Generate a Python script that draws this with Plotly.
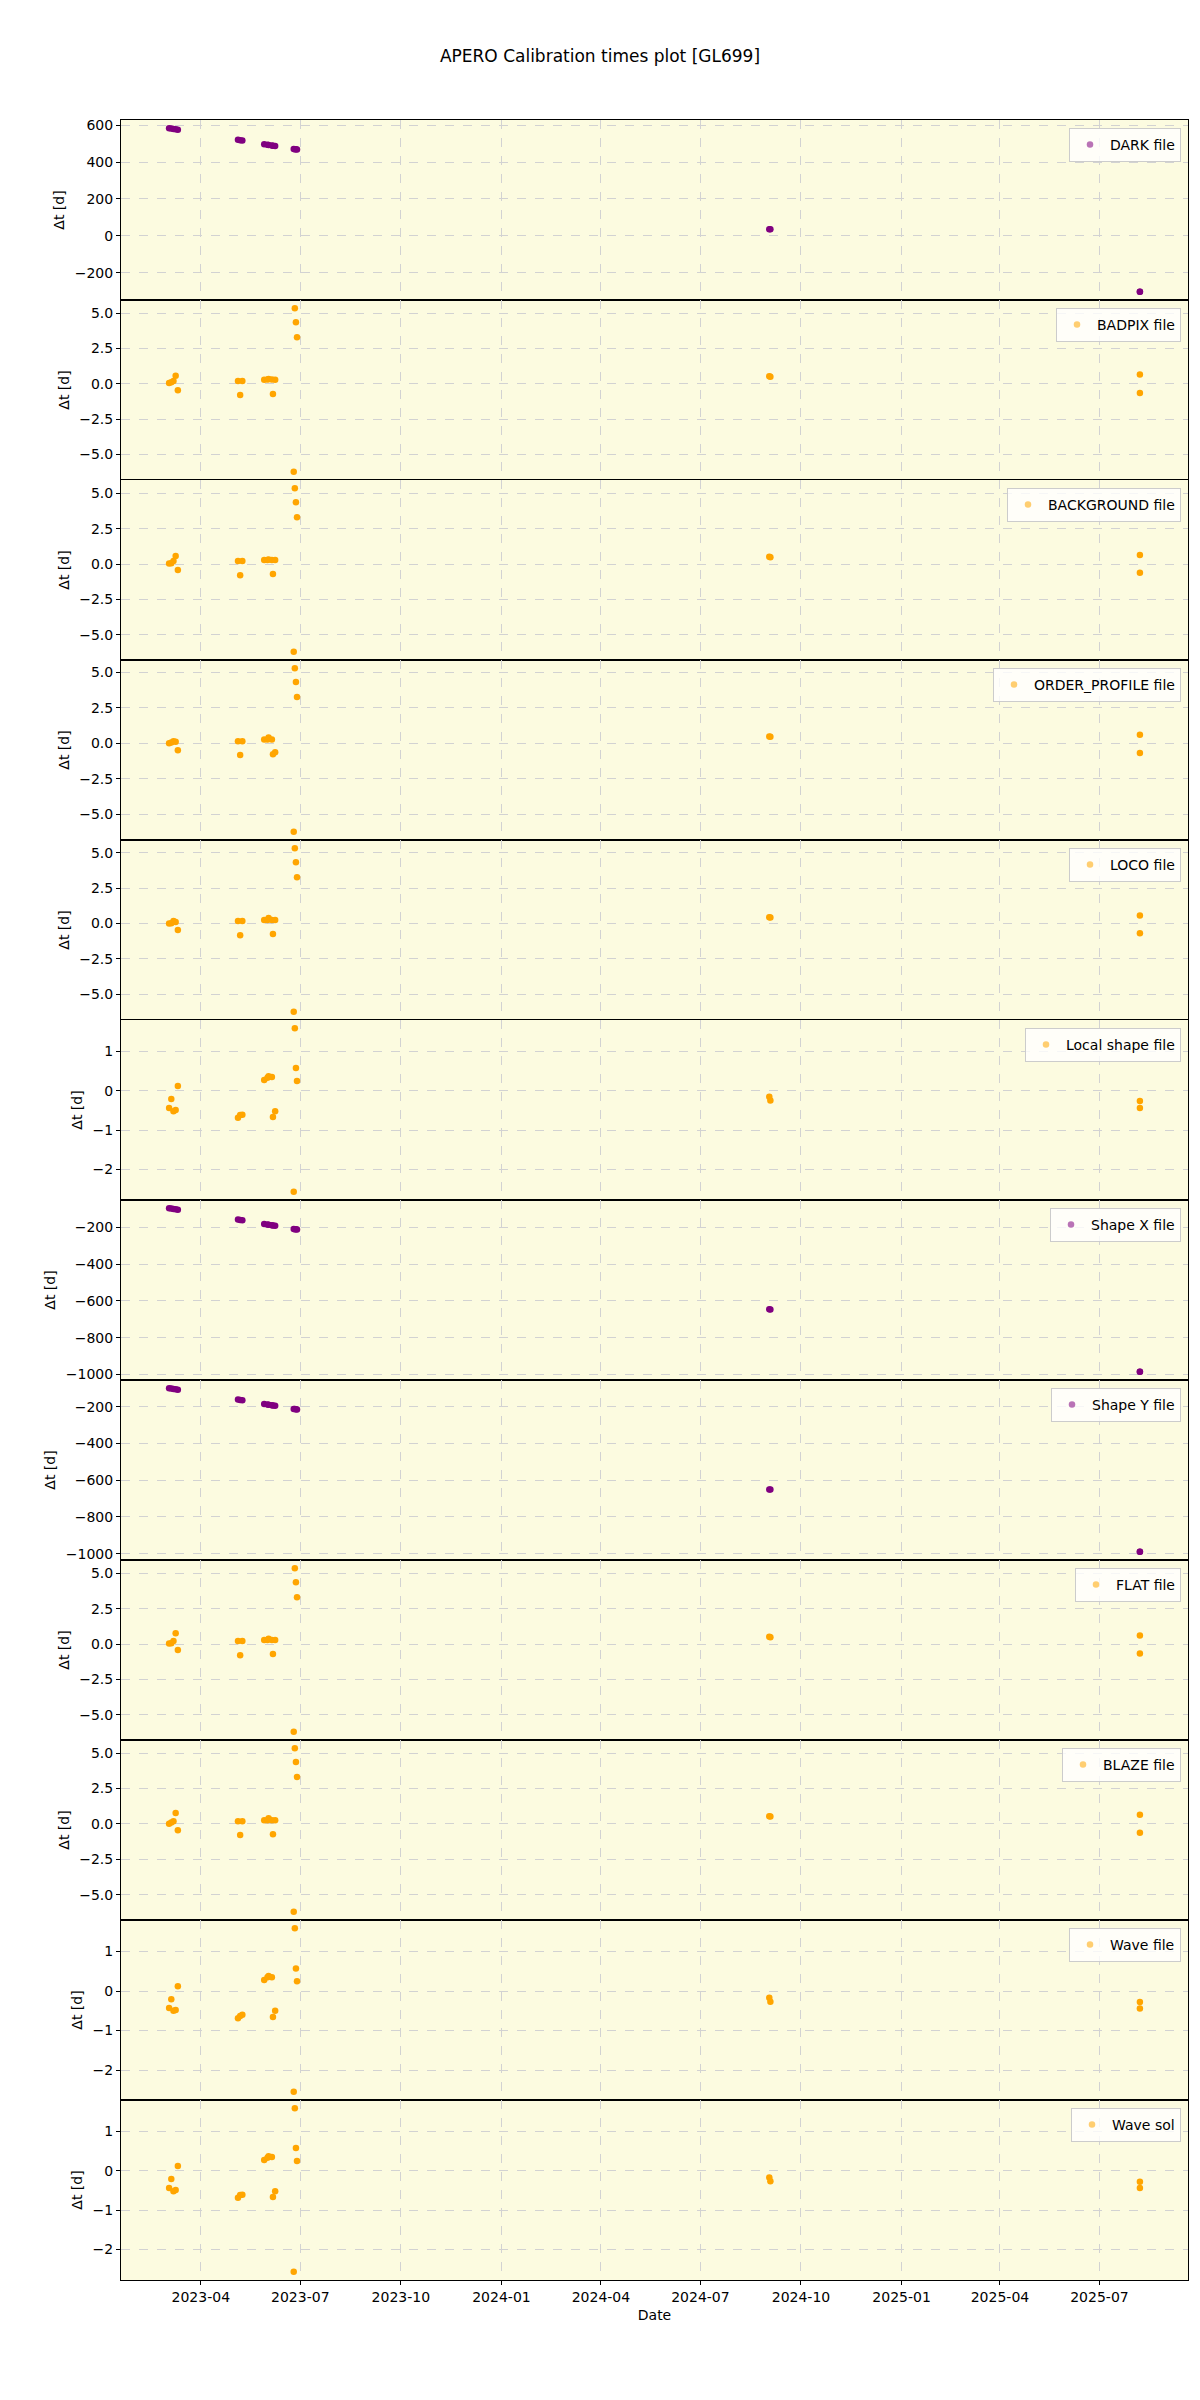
import plotly.graph_objects as go
from plotly.subplots import make_subplots

# ---------------- data ----------------
obs_dates = [
    "2023-03-03", "2023-03-05", "2023-03-07", "2023-03-09", "2023-03-11",
    "2023-05-05", "2023-05-07", "2023-05-09",
    "2023-05-29", "2023-06-01", "2023-06-02", "2023-06-05", "2023-06-06", "2023-06-08",
    "2023-06-25", "2023-06-26", "2023-06-27", "2023-06-28",
    "2024-09-02", "2024-09-03",
    "2025-08-07", "2025-08-07",
]

panel_names = ["DARK file", "BADPIX file", "BACKGROUND file", "ORDER_PROFILE file",
               "LOCO file", "Local shape file", "Shape X file", "Shape Y file",
               "FLAT file", "BLAZE file", "Wave file", "Wave sol"]

dark_dt = [584, 582, 580, 578, 576, 521, 519, 517, 497, 494, 493, 490, 489, 487,
           471, 470, 469, 468, 36, 35, -304, -304]
badpix_dt = [0.05, 0.10, 0.20, 0.56, -0.45, 0.20, -0.80, 0.20, 0.28, 0.30, 0.33, 0.30, -0.73, 0.28,
             -6.23, 5.35, 4.35, 3.30, 0.53, 0.50, 0.65, -0.65]
background_dt = [0.05, 0.07, 0.22, 0.58, -0.41, 0.22, -0.78, 0.22, 0.30, 0.30, 0.34, 0.30, -0.70, 0.30,
                 -6.20, 5.38, 4.38, 3.33, 0.52, 0.50, 0.65, -0.60]
order_profile_dt = [0.00, 0.05, 0.15, 0.10, -0.49, 0.15, -0.83, 0.15, 0.27, 0.27, 0.40, 0.27, -0.78, -0.63,
                    -6.25, 5.30, 4.33, 3.26, 0.48, 0.46, 0.60, -0.69]
loco_dt = [0.00, 0.02, 0.17, 0.10, -0.46, 0.17, -0.83, 0.17, 0.24, 0.24, 0.39, 0.24, -0.75, 0.24,
           -6.25, 5.33, 4.33, 3.28, 0.44, 0.42, 0.56, -0.69]
local_shape_dt = [-0.44, -0.21, -0.52, -0.49, 0.12, -0.69, -0.62, -0.61, 0.27, 0.33, 0.37, 0.35, -0.67, -0.52,
                  -2.57, 1.59, 0.58, 0.25, -0.15, -0.25, -0.26, -0.44]
shape_x_dt = [-97, -99, -101, -103, -105, -159, -161, -163, -183, -186, -187, -190, -191, -193,
              -210, -211, -212, -213, -646, -647, -985, -985]
shape_y_dt = [-99, -101, -103, -105, -107, -161, -163, -165, -185, -188, -189, -192, -193, -195,
              -212, -213, -214, -215, -650, -651, -990, -990]
flat_dt = [0.05, 0.07, 0.22, 0.78, -0.41, 0.22, -0.78, 0.22, 0.30, 0.30, 0.39, 0.30, -0.70, 0.30,
           -6.20, 5.38, 4.38, 3.33, 0.52, 0.50, 0.61, -0.65]
blaze_dt = [0.02, 0.10, 0.20, 0.78, -0.44, 0.20, -0.78, 0.20, 0.27, 0.27, 0.41, 0.27, -0.73, 0.27,
            -6.20, 5.35, 4.38, 3.31, 0.55, 0.52, 0.65, -0.62]
wave_file_dt = [-0.43, -0.21, -0.50, -0.48, 0.12, -0.69, -0.63, -0.60, 0.28, 0.35, 0.38, 0.35, -0.66, -0.50,
                -2.55, 1.59, 0.57, 0.25, -0.17, -0.27, -0.28, -0.44]
wave_sol_dt = [-0.44, -0.21, -0.52, -0.49, 0.12, -0.69, -0.62, -0.61, 0.27, 0.33, 0.37, 0.35, -0.67, -0.52,
               -2.57, 1.59, 0.58, 0.25, -0.17, -0.27, -0.28, -0.44]

panel_values = [dark_dt, badpix_dt, background_dt, order_profile_dt, loco_dt, local_shape_dt,
                shape_x_dt, shape_y_dt, flat_dt, blaze_dt, wave_file_dt, wave_sol_dt]
panel_colors = ["purple", "orange", "orange", "orange", "orange", "orange",
                "purple", "purple", "orange", "orange", "orange", "orange"]
legend_colors = {"purple": "rgba(128,0,128,0.55)", "orange": "rgba(255,165,0,0.55)"}
panel_dticks = [200, 2.5, 2.5, 2.5, 2.5, 1, 200, 200, 2.5, 2.5, 1, 1]
panel_tickfmt = ["d", ".1f", ".1f", ".1f", ".1f", "d", "d", "d", ".1f", ".1f", "d", "d"]

x_tickvals = ["2023-04-01", "2023-07-01", "2023-10-01", "2024-01-01", "2024-04-01",
              "2024-07-01", "2024-10-01", "2025-01-01", "2025-04-01", "2025-07-01"]
x_range = ["2023-01-18", "2025-09-20"]

# ---------------- figure ----------------
W, H = 1200, 2400
ML, MR, MT, MB = 121, 12, 120, 120
n = len(panel_names)
plot_h = H - MT - MB
plot_w = W - ML - MR

fig = make_subplots(rows=n, cols=1, shared_xaxes=True, vertical_spacing=0)

font_family = "DejaVu Sans"
layout_legends = {}
for i in range(n):
    leg = "legend" if i == 0 else f"legend{i + 1}"
    fig.add_trace(go.Scatter(
        x=obs_dates, y=panel_values[i], mode="markers", name=panel_names[i],
        marker=dict(color=panel_colors[i], size=6.5, line=dict(width=0)),
        showlegend=False,
    ), row=i + 1, col=1)
    # legend entry (lighter marker as in the reference legend)
    fig.add_trace(go.Scatter(
        x=[None], y=[None], mode="markers", name=panel_names[i],
        marker=dict(color=legend_colors[panel_colors[i]], size=6.5, line=dict(width=0)),
        legend=leg, showlegend=True, hoverinfo="skip",
    ), row=i + 1, col=1)
    top = 1 - i / n
    layout_legends[leg] = dict(
        x=(1181 - ML) / plot_w, xanchor="right",
        y=top - 8 / plot_h, yanchor="top",
        bgcolor="rgba(255,255,255,0.8)", bordercolor="#cccccc", borderwidth=1,
        font=dict(size=14, color="black", family=font_family),
        itemsizing="trace", tracegroupgap=0,
    )
    vals = panel_values[i]
    lo, hi = min(vals), max(vals)
    pad = 0.05 * (hi - lo)
    fig.update_yaxes(
        range=[lo - pad, hi + pad], dtick=panel_dticks[i], tick0=0, tickformat=panel_tickfmt[i],
        title=dict(text="Δt [d]", font=dict(size=14, color="black"), standoff=6),
        row=i + 1, col=1,
    )

fig.update_layout(**layout_legends)

fig.update_xaxes(
    range=x_range, type="date", tickvals=x_tickvals, tickformat="%Y-%m",
    showgrid=True, gridcolor="#d2d2d2", griddash="dash", gridwidth=1,
    showline=True, linecolor="black", linewidth=1, mirror=True,
    ticks="", showticklabels=False, zeroline=False,
)
fig.update_xaxes(
    ticks="outside", ticklen=4, tickcolor="black", showticklabels=True,
    tickfont=dict(size=14, color="black"),
    title=dict(text="Date", font=dict(size=14, color="black"), standoff=6),
    row=n, col=1,
)
fig.update_yaxes(
    showgrid=True, gridcolor="#d2d2d2", griddash="dash", gridwidth=1,
    showline=True, linecolor="black", linewidth=1, mirror=True,
    ticks="outside", ticklen=4, tickcolor="black", zeroline=False,
    tickfont=dict(size=14, color="black"),
)

fig.update_layout(
    width=W, height=H,
    margin=dict(l=ML, r=MR, t=MT, b=MB, pad=0),
    paper_bgcolor="white", plot_bgcolor="#fcfbe0",
    font=dict(family=font_family, size=14, color="black"),
    title=dict(text="APERO Calibration times plot [GL699]", x=0.5, xanchor="center",
               y=1 - 56 / H, yanchor="middle", font=dict(size=17, color="black")),
    showlegend=True,
)

fig.write_html("out.html")
